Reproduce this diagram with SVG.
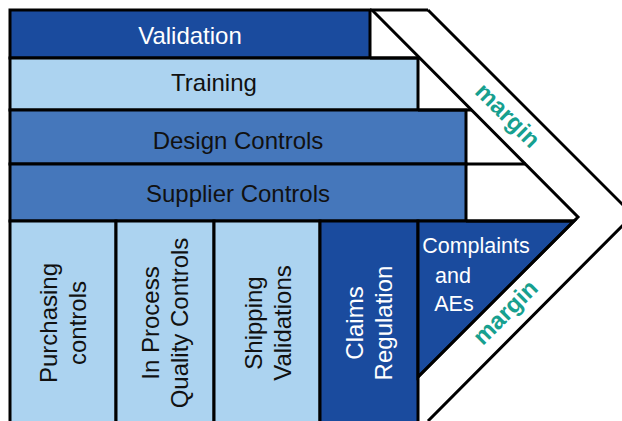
<svg xmlns="http://www.w3.org/2000/svg" width="622" height="421" viewBox="0 0 622 421">
<style>
.dark{fill:#1a4b9e}
.light{fill:#acd3f0}
.mid{fill:#4577bb}
.cell{stroke:#000;stroke-width:3}
.ln{stroke:#000;stroke-width:3;fill:none}
.t{font-family:"Liberation Sans",Arial,sans-serif;font-size:24px;text-anchor:middle;fill:#111}
.w{fill:#fff}
.c{font-family:"Liberation Sans",Arial,sans-serif;font-size:21.5px;text-anchor:middle;fill:#fff}
.m{font-family:"Liberation Sans",Arial,sans-serif;font-size:24px;font-weight:bold;text-anchor:middle;fill:#17a08f}
</style>
<rect width="622" height="421" fill="#fff"/>
<g id="validation">
<rect class="dark cell" x="10" y="10" width="360" height="48"/>
<text class="t w" x="190" y="44">Validation</text>
</g>
<g id="training">
<rect class="light cell" x="10" y="58" width="408" height="52"/>
<text class="t" x="214" y="91">Training</text>
</g>
<g id="design-controls">
<rect class="mid cell" x="10" y="110" width="456" height="54"/>
<text class="t" x="238" y="149">Design Controls</text>
</g>
<g id="supplier-controls">
<rect class="mid cell" x="10" y="164" width="456" height="57"/>
<text class="t" x="238" y="202">Supplier Controls</text>
</g>
<g id="purchasing-controls">
<rect class="light cell" x="10" y="221" width="106" height="205"/>
<text class="t" transform="translate(57,323) rotate(-90)"><tspan x="0" y="0">Purchasing</tspan><tspan x="0" y="29">controls</tspan></text>
</g>
<g id="in-process-quality-controls">
<rect class="light cell" x="116" y="221" width="98" height="205"/>
<text class="t" transform="translate(159,323) rotate(-90)"><tspan x="0" y="0">In Process</tspan><tspan x="0" y="29">Quality Controls</tspan></text>
</g>
<g id="shipping-validations">
<rect class="light cell" x="214" y="221" width="106" height="205"/>
<text class="t" transform="translate(262,323) rotate(-90)"><tspan x="0" y="0">Shipping</tspan><tspan x="0" y="29">Validations</tspan></text>
</g>
<g id="claims-regulation">
<rect class="dark cell" x="320" y="221" width="98" height="205"/>
<text class="t w" transform="translate(363,323) rotate(-90)"><tspan x="0" y="0">Claims</tspan><tspan x="0" y="29">Regulation</tspan></text>
</g>
<g id="complaints-aes">
<polygon class="dark cell" points="418,221 574,221 418,377"/>
<text class="c" x="476" y="253">Complaints</text>
<text class="c" x="453" y="283">and</text>
<text class="c" x="454" y="311">AEs</text>
</g>
<g id="connectors">
<polyline class="ln" points="370,10 428,10"/>
<polyline class="ln" points="370,58 420,58"/>
<polyline class="ln" points="418,110 472,110"/>
<polyline class="ln" points="466,164 526,164"/>
<polyline class="ln" points="466,221 574,221"/>
<polyline class="ln" points="372,10 578,217 418,377"/>
<polyline class="ln" points="428,10 633,215 428,421"/>
</g>
<g id="margin-top">
<text class="m" transform="translate(502,121) rotate(45)">margin</text>
</g>
<g id="margin-bottom">
<text class="m" transform="translate(511,318) rotate(-45)">margin</text>
</g>
</svg>
